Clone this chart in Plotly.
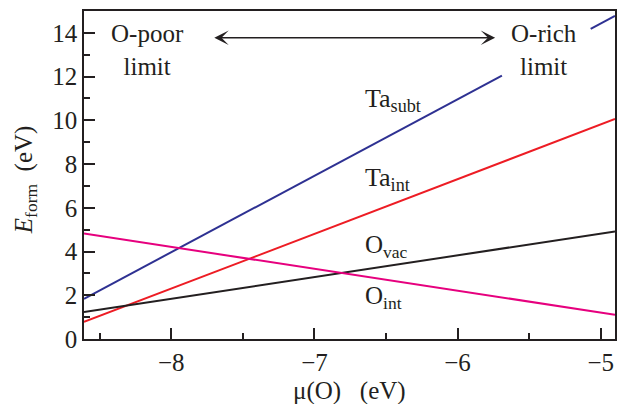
import plotly.graph_objects as go

# ---- data ----
mu_ends = [-8.61, -4.90]                 # chemical potential of O at the plot edges (eV)
E_Ta_int = [0.78, 10.06]                 # Ta interstitial formation energy
E_O_vac = [1.23, 4.92]                   # O vacancy
E_O_int = [4.82, 1.11]                   # O interstitial
mu_Ta_subt = [-8.61, -5.69, None, -5.07, -4.90]   # Ta substitutional (line broken by label)
E_Ta_subt = [1.84, 12.04, None, 14.18, 14.78]

x_ticks = [-8, -7, -6, -5]
x_ticklabels = ["\u22128", "\u22127", "\u22126", "\u22125"]
y_ticks = [0, 2, 4, 6, 8, 10, 12, 14]
y_ticklabels = ["0", "2", "4", "6", "8", "10", "12", "14"]

# ---- layout geometry ----
W, H = 623, 404
L, R, T, B = 84, 6, 11, 65
XR = [-8.61, -4.90]
YR = [0, 15]
PW, PH = W - L - R, H - T - B

def px(xp):
    return (xp - L) / PW

def py(yp):
    return (H - B - yp) / PH

FONT = "Liberation Serif, Times New Roman, serif"
TXT = "#231F20"

fig = go.Figure()
fig.add_trace(go.Scatter(x=mu_Ta_subt, y=E_Ta_subt, mode="lines",
                         line=dict(color="#2E3192", width=2), connectgaps=False))
fig.add_trace(go.Scatter(x=mu_ends, y=E_Ta_int, mode="lines",
                         line=dict(color="#ED1C24", width=2)))
fig.add_trace(go.Scatter(x=mu_ends, y=E_O_vac, mode="lines",
                         line=dict(color="#231F20", width=2)))
fig.add_trace(go.Scatter(x=mu_ends, y=E_O_int, mode="lines",
                         line=dict(color="#E6007E", width=2)))

axis_common = dict(showgrid=False, zeroline=False, showline=True, linecolor=TXT,
                   linewidth=1.5, mirror=True, ticks="inside", tickcolor=TXT,
                   tickwidth=1.5, ticklen=11,
                   tickfont=dict(family=FONT, size=25, color=TXT))

fig.update_xaxes(range=XR, tickmode="array", tickvals=x_ticks, ticktext=x_ticklabels,
                 minor=dict(ticks="inside", ticklen=6, tickwidth=1.5, tickcolor=TXT,
                            tickmode="linear", tick0=-8.5, dtick=1),
                 **axis_common)
fig.update_yaxes(range=YR, tickmode="array", tickvals=y_ticks, ticktext=y_ticklabels,
                 minor=dict(ticks="inside", ticklen=6, tickwidth=1.5, tickcolor=TXT,
                            tickmode="linear", tick0=1, dtick=2),
                 **axis_common)

ann = []
def label(text, xp, yp, size=25, xanchor="left", yanchor="middle", align="left"):
    ann.append(dict(text=text, xref="paper", yref="paper", x=px(xp), y=py(yp),
                    xanchor=xanchor, yanchor=yanchor, showarrow=False, align=align,
                    font=dict(family=FONT, size=size, color=TXT)))

label("Ta<sub>subt</sub>", 364, 100, size=26)
label("Ta<sub>int</sub>", 364, 179, size=26)
label("O<sub>vac</sub>", 364, 246)
label("O<sub>int</sub>", 364, 297)
label("O-poor<br>limit", 147.5, 50, size=25, xanchor="center", align="center")
label("O-rich<br>limit", 546, 50, size=25, xanchor="center", align="center")

# axis titles
ann.append(dict(text="<i>E</i><sub>form</sub>  (eV)", xref="paper", yref="paper",
                x=px(25), y=py(180), xanchor="center", yanchor="middle", textangle=-90,
                showarrow=False, font=dict(family=FONT, size=25, color=TXT)))
ann.append(dict(text="\u03bc(O)   (eV)", xref="paper", yref="paper",
                x=px(351), y=py(391), xanchor="center", yanchor="middle",
                showarrow=False, font=dict(family=FONT, size=25, color=TXT)))

# double-headed arrow
def dx(xp):
    return XR[0] + (xp - L) / PW * (XR[1] - XR[0])

def dy(yp):
    return YR[0] + (H - B - yp) / PH * (YR[1] - YR[0])

ann.append(dict(text="", xref="x", yref="y", axref="x", ayref="y",
                x=dx(496.7), y=dy(37.7), ax=dx(213.3), ay=dy(37.7),
                showarrow=True, arrowhead=3, startarrowhead=3, arrowside="end+start",
                arrowsize=1.6, startarrowsize=1.6, arrowwidth=1.5, arrowcolor=TXT,
                standoff=0, startstandoff=0))

fig.update_layout(width=W, height=H, margin=dict(l=L, r=R, t=T, b=B),
                  paper_bgcolor="white", plot_bgcolor="white", showlegend=False,
                  annotations=ann)

fig.write_html("out.html", config={"displayModeBar": False},
               post_script="document.body.style.margin='0';document.body.style.overflow='hidden';")
